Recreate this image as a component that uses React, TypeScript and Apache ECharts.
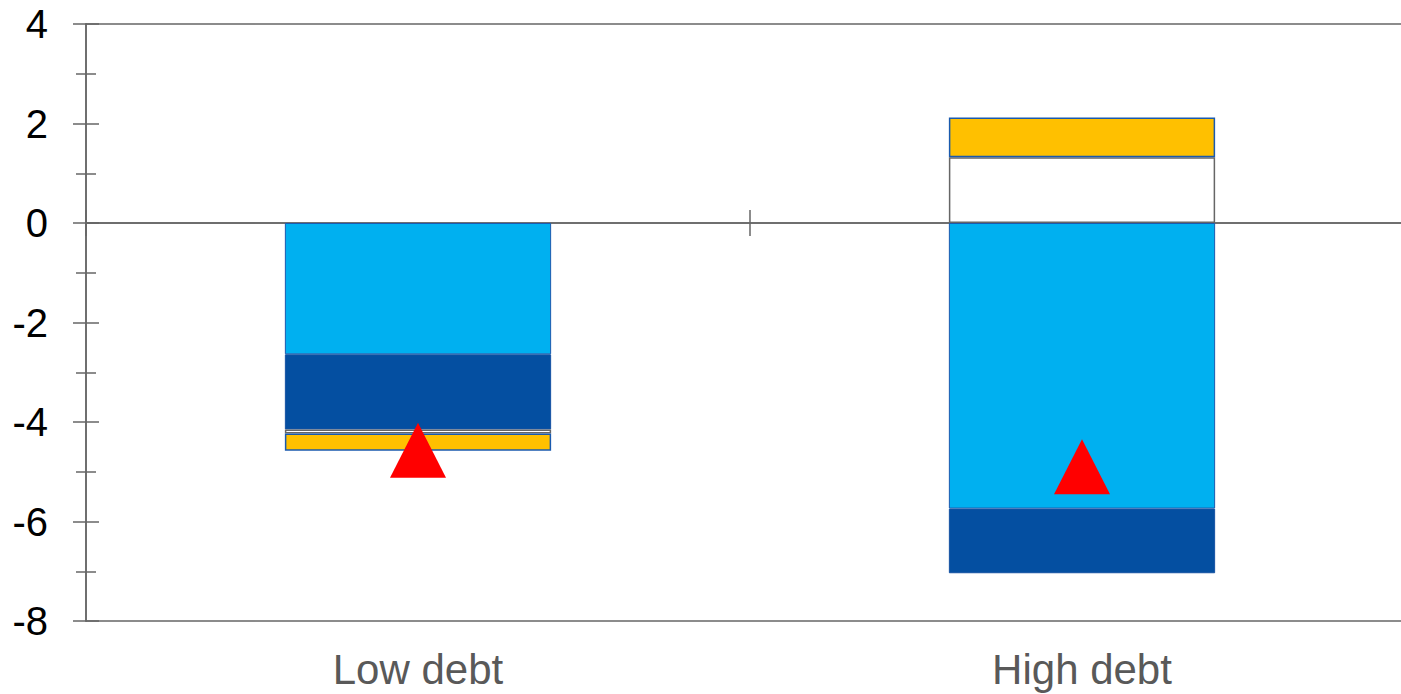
import React, { useEffect, useRef } from 'react';
import * as echarts from 'echarts';

const categories = ['Low debt', 'High debt'];
const lightBlueValues = [-2.64, -5.74];
const darkBlueValues = [-1.51, -1.3];
const whiteValues = [-0.08, 1.32];
const yellowValues = [-0.35, 0.8];
const triangleValues = [-4.57, -4.9];
const yMin = -8;
const yMax = 4;
const yInterval = 2;

const AXIS_COLOR = '#666666';
const BORDER_BLUE = '#1A5AAE';

export default function App() {
  const ref = useRef<HTMLDivElement>(null);
  useEffect(() => {
    if (!ref.current) return;
    const chart = echarts.init(ref.current, null, { renderer: 'svg' });
    const grid = { left: 86, top: 24, width: 1328, height: 597, containLabel: false, outerBoundsMode: 'none' };
    const baseX = {
      type: 'category',
      data: categories,
      boundaryGap: true,
      axisLabel: { show: false },
      splitLine: { show: false },
    };
    const barBase = { type: 'bar', stack: 'total', barWidth: '40.1%', xAxisIndex: 0, yAxisIndex: 0 };
    chart.setOption({
      animation: false,
      backgroundColor: '#ffffff',
      grid,
      xAxis: [
        {
          ...baseX,
          position: 'bottom',
          axisLine: { onZero: false, lineStyle: { color: AXIS_COLOR, width: 1.5 } },
          axisTick: { show: false },
          axisLabel: { show: true, color: '#595959', fontSize: 42, fontFamily: 'Liberation Sans, Arial, sans-serif', margin: 27 },
        },
        {
          ...baseX,
          position: 'bottom',
          axisLine: { onZero: true, lineStyle: { color: AXIS_COLOR, width: 1.5 } },
          axisTick: { show: true, inside: false, length: 13, lineStyle: { color: AXIS_COLOR, width: 1.5 } },
        },
        {
          ...baseX,
          position: 'bottom',
          axisLine: { onZero: true, lineStyle: { color: AXIS_COLOR, width: 1.5 } },
          axisTick: { show: true, inside: true, length: 13, lineStyle: { color: AXIS_COLOR, width: 1.5 } },
        },
        {
          ...baseX,
          position: 'top',
          axisLine: { onZero: false, lineStyle: { color: AXIS_COLOR, width: 1.5 } },
          axisTick: { show: false },
        },
      ],
      yAxis: [
        {
          type: 'value',
          position: 'left',
          min: yMin,
          max: yMax,
          interval: yInterval,
          axisLine: { show: true, onZero: false, lineStyle: { color: AXIS_COLOR, width: 1.5 } },
          axisTick: { show: true, inside: false, length: 13, lineStyle: { color: AXIS_COLOR, width: 1.5 } },
          minorTick: { show: true, splitNumber: 2, length: 10, lineStyle: { color: AXIS_COLOR, width: 1.5 } },
          splitLine: { show: false },
          axisLabel: { color: '#000000', fontSize: 40, fontFamily: 'Liberation Sans, Arial, sans-serif', margin: 38 },
        },
        {
          type: 'value',
          position: 'left',
          min: yMin,
          max: yMax,
          interval: yInterval,
          axisLine: { show: true, onZero: false, lineStyle: { color: AXIS_COLOR, width: 1.5 } },
          axisTick: { show: true, inside: true, length: 13, lineStyle: { color: AXIS_COLOR, width: 1.5 } },
          minorTick: { show: true, splitNumber: 2, length: 10, lineStyle: { color: AXIS_COLOR, width: 1.5 } },
          splitLine: { show: false },
          axisLabel: { show: false },
        },
      ],
      series: [
        {
          ...barBase,
          name: 'Light blue component',
          data: lightBlueValues,
          itemStyle: { color: '#00B0F0', borderColor: BORDER_BLUE, borderWidth: 1 },
        },
        {
          ...barBase,
          name: 'Dark blue component',
          data: darkBlueValues,
          itemStyle: { color: '#044FA1', borderColor: '#1552A3', borderWidth: 1 },
        },
        {
          ...barBase,
          name: 'White component',
          data: whiteValues,
          itemStyle: { color: '#ffffff', borderColor: '#666666', borderWidth: 1.5 },
        },
        {
          ...barBase,
          name: 'Yellow component',
          data: yellowValues,
          itemStyle: { color: '#FFC000', borderColor: BORDER_BLUE, borderWidth: 1.5 },
        },
        {
          type: 'scatter',
          name: 'Total',
          xAxisIndex: 0,
          yAxisIndex: 0,
          data: triangleValues,
          symbol: 'triangle',
          symbolSize: [56, 55],
          itemStyle: { color: '#FF0000', opacity: 1 },
          z: 5,
        },
      ],
    });
    return () => chart.dispose();
  }, []);
  return (
    <div
      ref={ref}
      style={{ position: 'fixed', left: 0, top: 0, width: 1401, height: 694, background: '#ffffff' }}
    />
  );
}
